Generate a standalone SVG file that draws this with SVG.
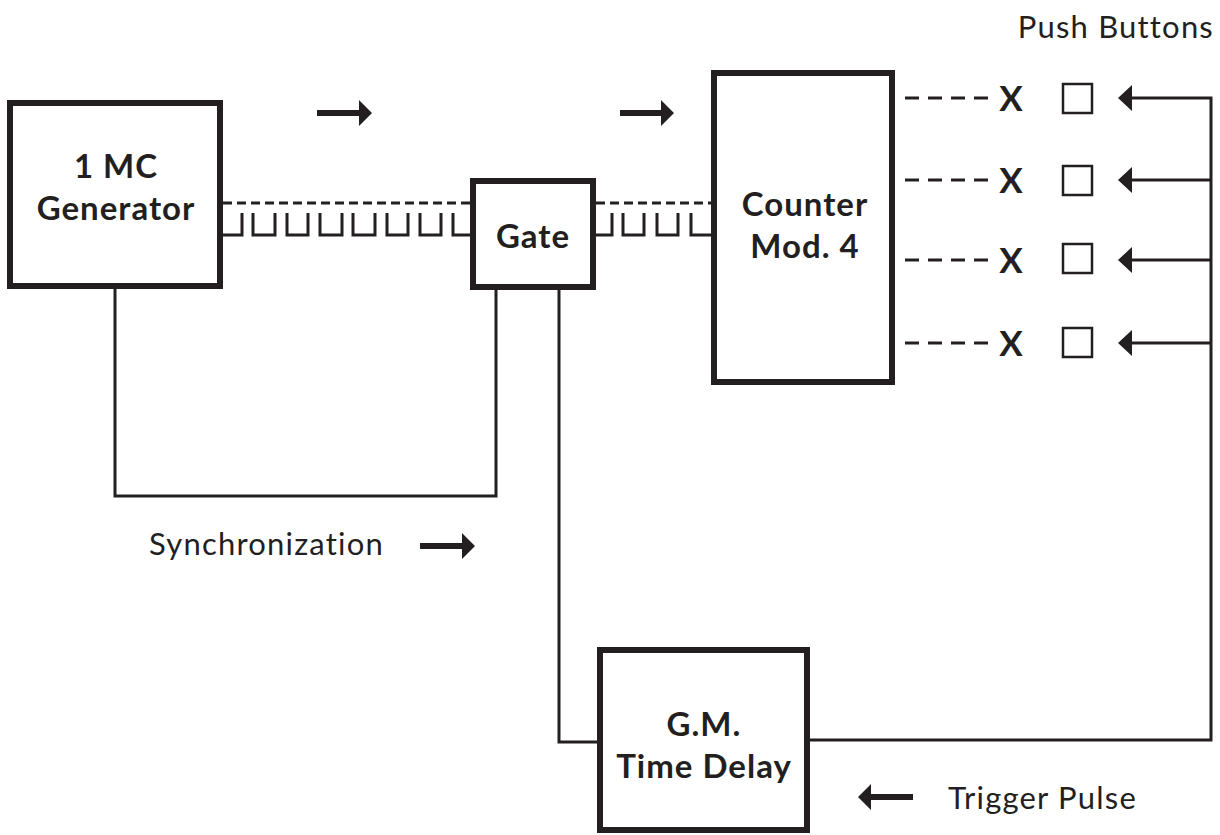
<svg xmlns="http://www.w3.org/2000/svg" width="1220" height="835" viewBox="0 0 1220 835">
<style>
.box{fill:#fff;stroke:#231f20;stroke-width:6}
.lbl{font-family:Lato,"Open Sans","Liberation Sans",sans-serif;font-weight:bold;font-size:33px;letter-spacing:1px;fill:#231f20;text-anchor:middle}
.note{font-family:Lato,"Open Sans","Liberation Sans",sans-serif;font-size:31px;letter-spacing:1.2px;fill:#231f20}
.wire{fill:none;stroke:#231f20;stroke-width:3}
.dash{fill:none;stroke:#231f20;stroke-width:3;stroke-dasharray:9 5}
.dash2{fill:none;stroke:#231f20;stroke-width:3;stroke-dasharray:14 9}
.thick{fill:#231f20}
.pb{fill:#fff;stroke:#231f20;stroke-width:2.5}
.x{font-family:Lato,"Open Sans","Liberation Sans",sans-serif;font-weight:bold;font-size:35px;fill:#231f20;text-anchor:middle}
</style>
<g id="connectors">
<path class="wire" d="M115,289 V496 H496 V290"/>
<path class="wire" d="M559,290 V742 H597"/>
<path class="wire" d="M810,740 H1211 V98 H1132"/>
<path class="wire" d="M1211,180 H1132 M1211,260 H1132 M1211,343 H1132"/>
<path class="thick" d="M1118,98 L1132,85 L1132,111 Z M1118,180 L1132,167 L1132,193 Z M1118,260 L1132,247 L1132,273 Z M1118,343 L1132,330 L1132,356 Z"/>
<path class="dash" d="M223,203 H470 M596,203 H711"/>
<path class="wire" d="M223,235 H242 V213 M253,213 V235 H275 V213 M287,213 V235 H308 V213 M320,213 V235 H342 V213 M353,213 V235 H375 V213 M387,213 V235 H408 V213 M420,213 V235 H441 V213 M453,213 V235 H470"/>
<path class="wire" d="M596,235 H612 V213 M623,213 V235 H644 V213 M657,213 V235 H678 V213 M691,213 V235 H711"/>
<path class="dash2" d="M905,98 H990 M905,180 H990 M905,260 H990 M905,343 H990"/>
</g>
<g id="flow-arrows">
<path class="thick" d="M317,110 H359 V100 L372,113 L359,126 V116 H317 Z"/>
<path class="thick" d="M620,110 H661 V100 L674,113 L661,126 V116 H620 Z"/>
<path class="thick" d="M420,543 H462 V533 L475,546 L462,559 V549 H420 Z"/>
<path class="thick" d="M913,794 H871 V784 L858,797 L871,810 V800 H913 Z"/>
</g>
<g id="generator">
<rect class="box" x="10" y="103" width="210" height="183"/>
<text class="lbl" x="116" y="178">1 MC</text>
<text class="lbl" x="116" y="220">Generator</text>
</g>
<g id="gate">
<rect class="box" x="473" y="181" width="120" height="106"/>
<text class="lbl" x="533" y="248">Gate</text>
</g>
<g id="counter">
<rect class="box" x="714" y="73" width="178" height="309"/>
<text class="lbl" x="805" y="216">Counter</text>
<text class="lbl" x="805" y="258">Mod. 4</text>
</g>
<g id="delay">
<rect class="box" x="600" y="650" width="207" height="180"/>
<text class="lbl" x="704" y="736">G.M.</text>
<text class="lbl" x="704" y="778">Time Delay</text>
</g>
<g id="push-buttons">
<text class="x" x="1011" y="111">X</text>
<text class="x" x="1011" y="193">X</text>
<text class="x" x="1011" y="273">X</text>
<text class="x" x="1011" y="356">X</text>
<rect class="pb" x="1063" y="84" width="29" height="29"/>
<rect class="pb" x="1063" y="166" width="29" height="29"/>
<rect class="pb" x="1063" y="244" width="29" height="29"/>
<rect class="pb" x="1063" y="328" width="29" height="29"/>
</g>
<g id="labels">
<text class="note" x="1214" y="38" text-anchor="end">Push Buttons</text>
<text class="note" x="149" y="555">Synchronization</text>
<text class="note" x="948" y="809">Trigger Pulse</text>
</g>
</svg>
